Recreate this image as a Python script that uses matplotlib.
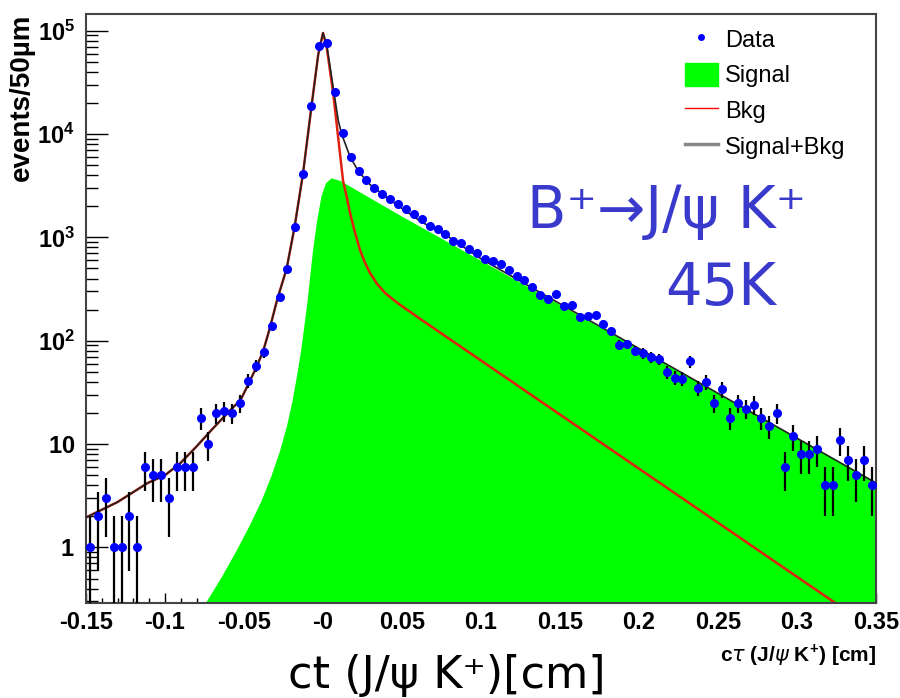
import numpy as np
import matplotlib
matplotlib.use('Agg')
import matplotlib.pyplot as plt
from matplotlib.lines import Line2D
from matplotlib.patches import Patch

plt.rcParams['font.family'] = ['Liberation Sans', 'DejaVu Sans']
plt.rcParams['mathtext.fontset'] = 'custom'
plt.rcParams['mathtext.rm'] = 'Liberation Sans'
plt.rcParams['mathtext.bf'] = 'Liberation Sans:bold'

# =====================================================
# DATA (events per 50 um bin, -0.15 .. 0.35 cm)
# =====================================================

bin_lo, bin_hi, bin_w = -0.15, 0.35, 0.005
counts = [1, 2, 3, 1, 1, 2, 1, 6, 5, 5,
          3, 6, 6, 6, 18, 10, 20, 21, 20, 25,
          41, 57, 77, 140, 263, 493, 1260, 4140, 18700, 70800,
          75200, 25700, 10300, 6040, 4380, 3570, 3030, 2640, 2340, 2100,
          1870, 1700, 1510, 1290, 1200, 1075, 925, 890, 780, 713,
          617, 593, 550, 485, 425, 389, 332, 278, 253, 286,
          218, 223, 171, 174, 178, 145, 125, 91, 92, 80,
          76, 69, 67, 50, 44, 43, 63, 35, 40, 25,
          34, 18, 25, 22, 24, 18, 15, 20, 6, 12,
          8, 8, 9, 4, 4, 11, 7, 5, 7, 4]

# fit curves
bkg_x = [-0.15, -0.13, -0.111, -0.10, -0.09, -0.08, -0.07, -0.059, -0.052, -0.048,
         -0.043, -0.038, -0.0335, -0.029, -0.023, -0.018, -0.0127, -0.0072, -0.003, 0.0,
         0.0023, 0.0065, 0.0097, 0.0127, 0.0150, 0.0171, 0.0203, 0.0234, 0.0266, 0.0297,
         0.0342, 0.0392, 0.0437, 0.0487, 0.0614, 0.15, 0.2848, 0.35]
bkg_y = [1.95, 2.75, 4.2, 5.0, 6.6, 9.5, 14, 21, 27, 36,
         52, 78, 135, 250, 500, 1260, 4100, 19000, 59000, 95000,
         70000, 24500, 9000, 3515, 2462, 1725, 1105, 757, 567, 454,
         355, 291, 255, 223, 163, 19.3, 0.75, 0.156]

tot_x = [-0.15, -0.13, -0.111, -0.10, -0.09, -0.08, -0.07, -0.059, -0.052, -0.048,
         -0.043, -0.038, -0.0335, -0.029, -0.023, -0.018, -0.0127, -0.0072, -0.003, 0.0,
         0.0023, 0.0065, 0.0097, 0.0118, 0.0171, 0.0223, 0.0297, 0.0403, 0.0508, 0.0614,
         0.08, 0.10, 0.15, 0.20, 0.25, 0.30, 0.35]
tot_y = [1.95, 2.75, 4.2, 5.0, 6.6, 9.5, 14, 21, 27, 36,
         52, 78, 135, 250, 500, 1260, 4100, 19000, 59000, 95000,
         73500, 28000, 13400, 10000, 6040, 4380, 3250, 2425, 1870, 1440,
         1000, 620, 228, 84, 31, 11.4, 4.2]

sig_x = [-0.08, -0.0747, -0.0639, -0.0551, -0.0468, -0.0392, -0.0329, -0.0275, -0.0231, -0.0196,
         -0.0168, -0.0142, -0.0101, -0.0067, -0.0041, -0.0013, 0.0016, 0.0051, 0.0108, 0.0487,
         0.112, 0.1753, 0.2386, 0.3019, 0.35]
sig_y = [0.15, 0.288, 0.536, 0.935, 1.63, 2.85, 4.97, 8.66, 15.1, 26.3,
         45.9, 80, 243, 740, 1440, 2523, 3385, 3768, 3550, 1641,
         472, 136, 39, 11.2, 4.3]

xticks = [-0.15, -0.1, -0.05, 0.0, 0.05, 0.1, 0.15, 0.2, 0.25, 0.3, 0.35]
xtick_labels = ['-0.15', '-0.1', '-0.05', '-0', '0.05', '0.1', '0.15',
                '0.2', '0.25', '0.3', '0.35']
yticks = [1, 10, 1e2, 1e3, 1e4, 1e5]
ytick_labels = [r'$\mathbf{1}$', r'$\mathbf{10}$', r'$\mathbf{10^{2}}$',
                r'$\mathbf{10^{3}}$', r'$\mathbf{10^{4}}$', r'$\mathbf{10^{5}}$']

# =====================================================
# FIGURE
# =====================================================

fig = plt.figure(figsize=(9, 6.98), dpi=100)
ax = fig.add_axes([86 / 900, 95 / 698, 790 / 900, 589 / 698])
ax.set_yscale('log')
ax.set_axisbelow(True)

n = np.array(counts, dtype=float)
centers = np.arange(len(counts)) * bin_w + bin_lo + bin_w / 2
err_lo = np.minimum(np.sqrt(n), n - 1e-4)
err_hi = np.sqrt(n)

ax.fill_between(sig_x, sig_y, 1e-3, color='#00ff00', lw=0, zorder=1)
ax.plot(bkg_x, bkg_y, color='#dd2211', lw=1.8, zorder=2)
ax.plot(tot_x, tot_y, color='#222222', lw=1.2, zorder=3)
ax.errorbar(centers, n, yerr=[err_lo, err_hi], fmt='o', color='blue',
            ms=5.5, mec='blue', ecolor='black', elinewidth=1.6,
            capsize=0, zorder=4)

ax.set_xlim(bin_lo, bin_hi)
ax.set_ylim(0.29, 1.45e5)

ax.set_xticks(xticks)
ax.set_xticklabels(xtick_labels)
ax.set_xticks(np.arange(-0.15, 0.351, 0.01), minor=True)
ax.set_yticks(yticks)
ax.set_yticklabels(ytick_labels)
ax.tick_params(axis='x', which='major', direction='in', length=7, width=1,
               labelsize=17, pad=6, top=False)
ax.tick_params(axis='x', which='minor', direction='in', length=3.5, width=1, top=False)
ax.tick_params(axis='y', which='major', direction='in', length=16, width=1,
               labelsize=17, pad=8, right=False)
ax.tick_params(axis='y', which='minor', direction='in', length=8.5, width=1, right=False)
for lab in ax.get_xticklabels():
    lab.set_fontweight('bold')
for sp in ax.spines.values():
    sp.set_color('#444444')
    sp.set_linewidth(1.5)

# legend
handles = [Line2D([], [], ls='none', marker='o', ms=4, color='blue'),
           Patch(color='#00ff00'),
           Line2D([], [], color='red', lw=1),
           Line2D([], [], color='#888888', lw=2.5)]
labels = ['Data', 'Signal', 'Bkg', 'Signal+Bkg']
ax.legend(handles, labels, loc='upper left', bbox_to_anchor=(0.758, 0.978),
          frameon=False, fontsize=17, handlelength=1.4, handleheight=1.15,
          handletextpad=0.3, labelspacing=0.47, borderpad=0, borderaxespad=0)

# axis titles
fig.text(876 / 900, 1 - 655 / 698, r'c$\tau$ (J/$\psi$ K$^{\mathbf{+}}$) [cm]',
         ha='right', va='center', fontsize=15, fontweight='bold')
fig.text(22 / 900, 1 - 14 / 698, 'events/50µm', rotation=90,
         ha='center', va='top', fontsize=20, fontweight='bold')

# annotations
fig.text(527 / 900, 1 - 228 / 698, 'B⁺→J/ψ K⁺', family='DejaVu Sans',
         fontsize=41.5, color='#3939cc', ha='left', va='baseline')
fig.text(665 / 900, 1 - 305 / 698, '45K', family='DejaVu Sans',
         fontsize=41.5, color='#3939cc', ha='left', va='baseline')
fig.text(447 / 900, 1 - 688 / 698, 'ct (J/ψ K⁺)[cm]', family='DejaVu Sans',
         fontsize=32, color='black', ha='center', va='baseline')

fig.savefig('out.png', dpi=100)
